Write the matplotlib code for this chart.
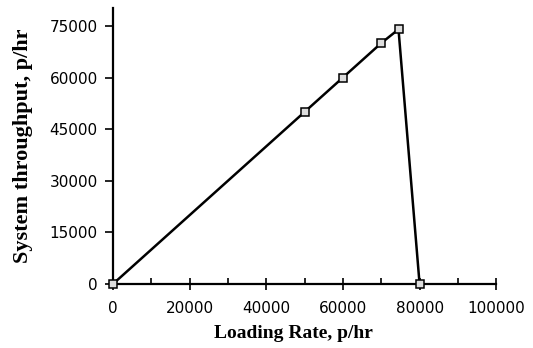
import matplotlib
matplotlib.use("Agg")
import matplotlib.pyplot as plt
from matplotlib.ticker import MultipleLocator

# data
loading_rate = [0, 50000, 60000, 70000, 74500, 80000]
throughput   = [0, 50000, 60000, 70000, 74000, 0]

x_ticks = [0, 20000, 40000, 60000, 80000, 100000]
y_ticks = [0, 15000, 30000, 45000, 60000, 75000]

fig = plt.figure(figsize=(5.33, 3.48), dpi=100)
ax = fig.add_axes([0.212, 0.184, 0.719, 0.793])

ax.plot(loading_rate, throughput, color='black', lw=1.8,
        marker='s', ms=6, mfc='#dddddd', mec='black', mew=1.1, clip_on=False, zorder=3)

ax.set_xlim(0, 100000)
ax.set_ylim(0, 80200)
ax.set_xticks(x_ticks)
ax.set_yticks(y_ticks)
ax.xaxis.set_minor_locator(MultipleLocator(10000))

for s in ['top', 'right']:
    ax.spines[s].set_visible(False)
ax.spines['bottom'].set_bounds(0, 100000)
for s in ['left', 'bottom']:
    ax.spines[s].set_linewidth(1.6)

ax.tick_params(axis='y', direction='out', length=6, width=1.2, labelsize=11, pad=5)
ax.tick_params(axis='x', which='major', direction='inout', length=8, width=1.2, labelsize=11, pad=8)
ax.tick_params(axis='x', which='minor', direction='in', length=4, width=1.2)

ax.set_xlabel('Loading Rate, p/hr', family='Liberation Serif', fontweight='bold', fontsize=14)
ax.xaxis.set_label_coords(0.47, -0.15)
ax.set_ylabel('System throughput, p/hr', family='Liberation Serif', fontweight='bold', fontsize=16, labelpad=12)

fig.savefig('out.png', dpi=100)
